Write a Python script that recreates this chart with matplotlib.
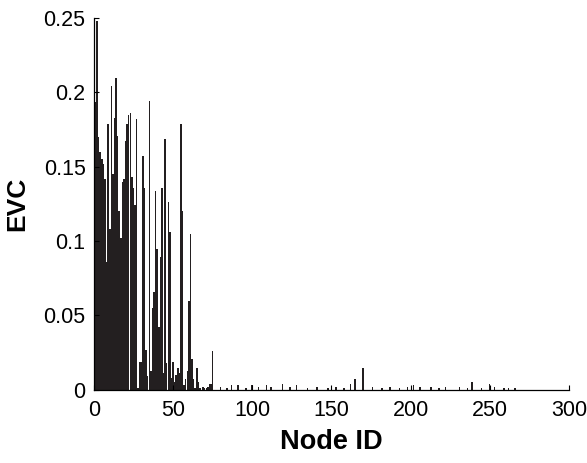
import numpy as np
import matplotlib
matplotlib.use("Agg")
import matplotlib.pyplot as plt

plt.rcParams['font.family'] = ['Liberation Sans', 'DejaVu Sans']

# eigenvector centrality of the first 75 nodes (node 1 .. 75)
evc_head = [
    0.1935, 0.248, 0.170, 0.160, 0.155, 0.152, 0.142, 0.086, 0.179, 0.108,
    0.204, 0.145, 0.183, 0.210, 0.171, 0.120, 0.102, 0.140, 0.142, 0.167,
    0.179, 0.185, 0.186, 0.143, 0.136, 0.124, 0.182, 0.001, 0.019, 0.019,
    0.157, 0.136, 0.027, 0.009, 0.194, 0.013, 0.055, 0.066, 0.134, 0.095,
    0.042, 0.089, 0.136, 0.011, 0.169, 0.018, 0.126, 0.106, 0.008, 0.019,
    0.005, 0.010, 0.015, 0.011, 0.179, 0.120, 0.003, 0.007, 0.013, 0.060,
    0.105, 0.021, 0.007, 0.001, 0.015, 0.005, 0.001, 0.000, 0.002, 0.001,
    0.001, 0.002, 0.004, 0.004, 0.026,
]

# remaining nodes with a visible (small) centrality
tail_ids = [80, 84, 87, 91, 96, 100, 104, 109, 112, 119, 124, 128, 135, 141,
            148, 153, 158, 162, 165, 170, 176, 182, 187, 193, 198, 202, 206,
            213, 218, 222, 231, 236, 239, 245, 250, 253, 259, 262, 266]
tail_evc = [0.002, 0.001, 0.003, 0.003, 0.001, 0.003, 0.002, 0.003, 0.002,
            0.004, 0.002, 0.003, 0.001, 0.002, 0.001, 0.002, 0.001, 0.004,
            0.007, 0.015, 0.002, 0.001, 0.002, 0.001, 0.002, 0.003, 0.002,
            0.002, 0.001, 0.002, 0.002, 0.001, 0.005, 0.001, 0.004, 0.002,
            0.001, 0.001, 0.001]

n_nodes = 270

evc = np.zeros(n_nodes)
evc[:len(evc_head)] = evc_head
evc[np.array(tail_ids) - 1] = tail_evc
nodes = np.arange(1, n_nodes + 1)

fig = plt.figure(figsize=(5.87, 4.63), dpi=100)
ax = fig.add_axes([0.160, 0.158, 0.809, 0.803])
ax.bar(nodes, evc, width=0.95, color='#231f20', linewidth=0)

ax.set_xlim(0, 300)
ax.set_ylim(0, 0.25)
ax.set_xticks(np.arange(0, 301, 50))
ax.set_yticks([0, 0.05, 0.1, 0.15, 0.2, 0.25])
ax.set_yticklabels(['0', '0.05', '0.1', '0.15', '0.2', '0.25'])
ax.tick_params(direction='in', length=3.5, width=0.8, labelsize=15.5)
ax.tick_params(axis='x', pad=7)
ax.tick_params(axis='y', pad=6)

for side in ['top', 'right']:
    ax.spines[side].set_visible(False)
for side in ['left', 'bottom']:
    ax.spines[side].set_linewidth(0.9)

ax.set_xlabel('Node ID', fontsize=19.5, fontweight='bold', labelpad=6)
ax.set_ylabel('EVC', fontsize=19, fontweight='bold', labelpad=10)

fig.savefig('out.png', dpi=100)
